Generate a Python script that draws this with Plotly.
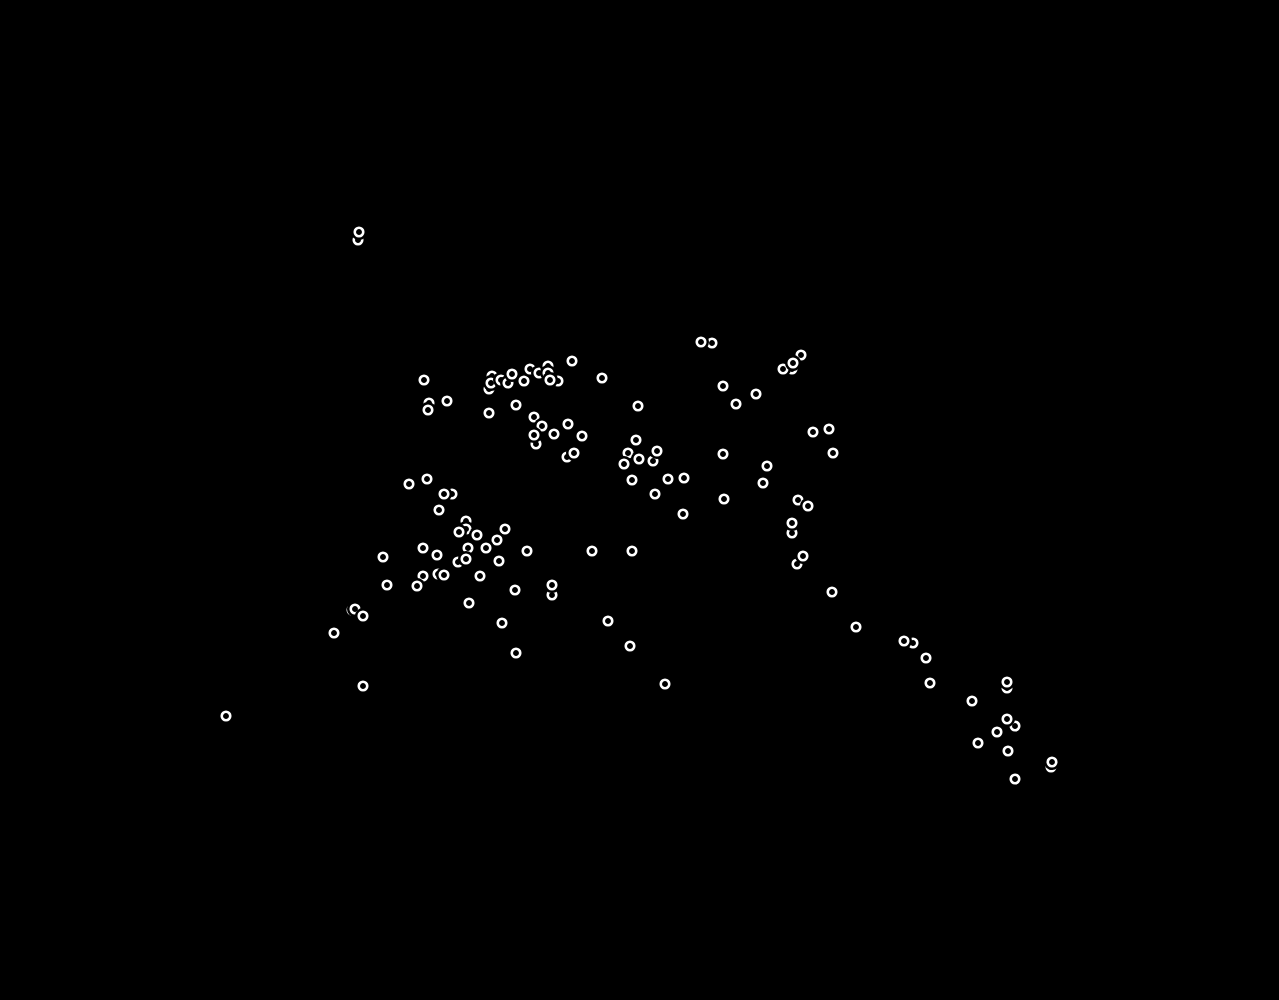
import plotly.graph_objects as go

# Point values (x, y); points listed earlier are drawn underneath
x_values = [
    358, 359, 424, 429, 428, 447, 489, 516,
    492, 489, 491, 501, 508, 512, 524, 530, 539,
    548, 548, 558, 550, 572, 602,
    534, 542, 536, 534, 554, 568, 582, 567, 574,
    638, 636, 628, 639, 624, 653, 657, 632, 668, 684, 655, 683,
    712, 701, 723, 736, 756, 792, 801, 783, 793,
    723, 724, 767, 763, 813, 829, 833, 798, 808, 792, 792, 797, 803,
    409, 427, 452, 444, 439, 466, 466, 459, 477, 505, 497, 486,
    468, 458, 466, 499, 527, 592, 632,
    383, 423, 437, 387, 423, 417, 438, 444, 480, 515, 552, 552,
    469, 502, 516, 608, 630, 665,
    352, 355, 363, 334, 363, 226,
    832, 856, 913, 904, 926, 930, 972, 1007, 1007, 1015, 1007,
    997, 978, 1008, 1051, 1052, 1015,
]
y_values = [
    240, 232, 380, 403, 410, 401, 413, 405,
    376, 389, 383, 380, 383, 374, 381, 369, 373,
    366, 373, 381, 380, 361, 378,
    417, 426, 444, 435, 434, 424, 436, 457, 453,
    406, 440, 453, 459, 464, 461, 451, 480, 479, 478, 494, 514,
    343, 342, 386, 404, 394, 369, 355, 369, 363,
    454, 499, 466, 483, 432, 429, 453, 500, 506, 533, 523, 564, 556,
    484, 479, 494, 494, 510, 521, 529, 532, 535, 529, 540, 548,
    548, 562, 559, 561, 551, 551, 551,
    557, 548, 555, 585, 576, 586, 574, 575, 576, 590, 595, 585,
    603, 623, 653, 621, 646, 684,
    610, 609, 616, 633, 686, 716,
    592, 627, 643, 641, 658, 683, 701, 688, 682, 726, 719,
    732, 743, 751, 767, 762, 779,
]

# Each point: a black halo disc, then a white ring on top
xs, ys, sizes, lw, lc = [], [], [], [], []
for xv, yv in zip(x_values, y_values):
    xs += [xv, xv]
    ys += [yv, yv]
    sizes += [16, 8.5]
    lw += [0, 2.6]
    lc += ["black", "white"]

fig = go.Figure(
    go.Scatter(
        x=xs,
        y=ys,
        mode="markers",
        marker=dict(
            symbol="circle",
            size=sizes,
            color="black",
            opacity=1,
            line=dict(color=lc, width=lw),
        ),
        hoverinfo="skip",
        showlegend=False,
    )
)

fig.update_layout(
    width=1279,
    height=1000,
    margin=dict(l=0, r=0, t=0, b=0),
    paper_bgcolor="black",
    plot_bgcolor="black",
    xaxis=dict(range=[0, 1279], visible=False),
    yaxis=dict(range=[1000, 0], visible=False),
    showlegend=False,
)

fig.write_html("out.html")
